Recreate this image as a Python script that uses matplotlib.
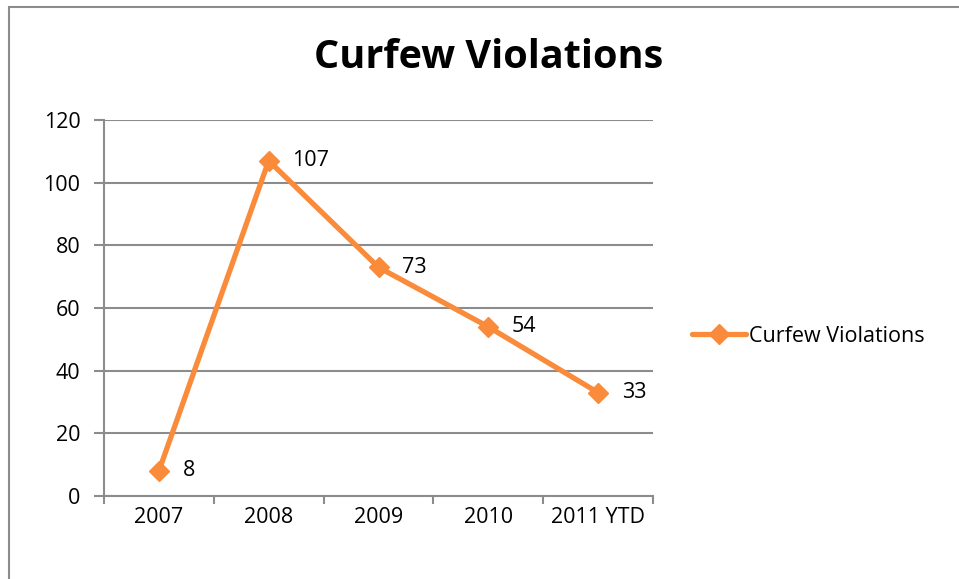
import matplotlib
matplotlib.use("Agg")
import matplotlib.pyplot as plt
from matplotlib.patches import Rectangle

categories = ["2007", "2008", "2009", "2010", "2011 YTD"]
values = [8, 107, 73, 54, 33]
series_name = "Curfew Violations"
title = "Curfew Violations"
yticks = [0, 20, 40, 60, 80, 100, 120]

plt.rcParams['font.family'] = ['Open Sans', 'DejaVu Sans']
color = '#F98B3A'
grid_c = '#8C8C8C'
fs = 15.5

fig = plt.figure(figsize=(9.59, 5.79), dpi=100)
fig.patches.append(Rectangle((9/959, -0.1), 1.2, 1 - 7/579 + 0.1, transform=fig.transFigure,
                             fill=False, edgecolor='#8C8C8C', linewidth=1.5))
ax = fig.add_axes([104/959, 83/579, 549/959, 376/579])
x = list(range(len(categories)))
line, = ax.plot(x, values, color=color, linewidth=3.8, marker='D', markersize=10.5,
                label=series_name, zorder=3, solid_capstyle='round')
for xi, v in zip(x, values):
    ax.annotate(str(v), (xi, v), xytext=(17, 0), textcoords='offset points',
                ha='left', va='center', fontsize=fs)
ax.set_xlim(-0.5, len(categories) - 0.5)
ax.set_ylim(0, 120)
ax.set_yticks(yticks)
ax.set_yticklabels([str(t) for t in yticks], fontsize=fs)
ax.set_xticks(x)
ax.set_xticklabels(categories, fontsize=fs)
ax.set_xticks([i - 0.5 for i in range(len(categories) + 1)], minor=True)
ax.tick_params(axis='x', which='major', length=0, pad=8)
ax.tick_params(axis='x', which='minor', length=6, color=grid_c, width=1.5)
ax.tick_params(axis='y', length=7, color=grid_c, width=1.5, pad=10)
ax.grid(axis='y', color=grid_c, linewidth=1.5)
ax.set_axisbelow(True)
for s in ['top', 'right']:
    ax.spines[s].set_visible(False)
for s in ['left', 'bottom']:
    ax.spines[s].set_color(grid_c)
    ax.spines[s].set_linewidth(1.5)
fig.text(489/959, 1 - 58/579, title, ha='center', va='center', fontsize=28.5, fontweight='bold')
fig.legend(handles=[line], loc='center left', bbox_to_anchor=(692/959, 1 - 336/579),
           frameon=False, fontsize=fs, handlelength=2.5, handletextpad=0.15, borderpad=0,
           borderaxespad=0)
fig.savefig("out.png", dpi=100)
